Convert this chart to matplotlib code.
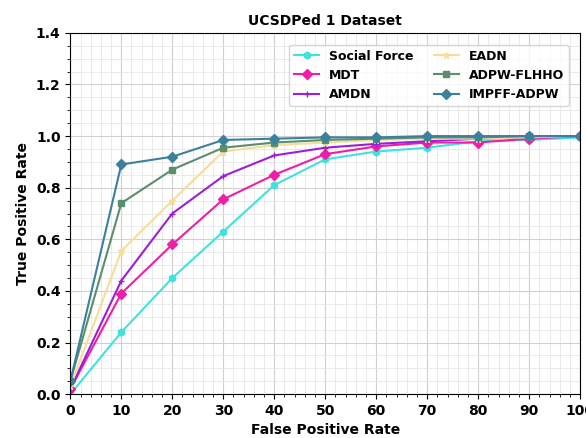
import numpy as np
import matplotlib.pyplot as plt
from matplotlib.ticker import AutoMinorLocator

# data
fpr = [0, 10, 20, 30, 40, 50, 60, 70, 80, 90, 100]
social_force = [0.0, 0.24, 0.45, 0.63, 0.81, 0.91, 0.94, 0.955, 0.98, 0.985, 0.995]
mdt = [0.02, 0.39, 0.58, 0.755, 0.85, 0.93, 0.96, 0.975, 0.975, 0.99, 1.0]
amdn = [0.02, 0.44, 0.70, 0.845, 0.925, 0.955, 0.97, 0.98, 0.99, 0.995, 1.0]
eadn = [0.03, 0.555, 0.75, 0.94, 0.965, 0.975, 0.985, 0.99, 0.99, 0.995, 1.0]
adpw_flhho = [0.05, 0.74, 0.87, 0.955, 0.975, 0.985, 0.99, 0.995, 0.995, 1.0, 1.0]
impff_adpw = [0.05, 0.89, 0.92, 0.985, 0.99, 0.995, 0.995, 1.0, 1.0, 1.0, 1.0]

series = [
    ('Social Force', social_force, '#3fe3dc', 'h', 5),
    ('MDT', mdt, '#ee1ea8', 'D', 5),
    ('AMDN', amdn, '#9b1fd6', '+', 5),
    ('EADN', eadn, '#f7dc9a', '*', 5),
    ('ADPW-FLHHO', adpw_flhho, '#5b8e6c', 's', 4),
    ('IMPFF-ADPW', impff_adpw, '#3b819c', 'D', 5.5),
]

fig, ax = plt.subplots(figsize=(5.86, 4.38), dpi=100)
for name, vals, col, mk, ms in series:
    ax.plot(fpr, vals, color=col, marker=mk, markersize=ms, linewidth=1.5, label=name)

ax.set_xlim(0, 100)
ax.set_ylim(0, 1.4)
ax.set_xticks(fpr)
ax.set_yticks(np.arange(0, 1.41, 0.2))
ax.xaxis.set_minor_locator(AutoMinorLocator(5))
ax.yaxis.set_minor_locator(AutoMinorLocator(4))
ax.grid(which='major', color='#d0d0d0', linewidth=0.8)
ax.grid(which='minor', color='#e6e6e6', linewidth=0.6)
ax.tick_params(which='minor', length=2)

for lbl in ax.get_xticklabels() + ax.get_yticklabels():
    lbl.set_fontweight('bold')
ax.set_title('UCSDPed 1 Dataset', fontweight='bold', fontsize=10)
ax.set_xlabel('False Positive Rate', fontweight='bold', fontsize=10)
ax.set_ylabel('True Positive Rate', fontweight='bold', fontsize=10)
ax.legend(ncol=2, loc='upper right', bbox_to_anchor=(0.99, 0.985),
          prop={'weight': 'bold', 'size': 9}, columnspacing=1.6)

plt.subplots_adjust(left=0.12, right=0.99, bottom=0.1, top=0.925)
plt.savefig('out.png')
